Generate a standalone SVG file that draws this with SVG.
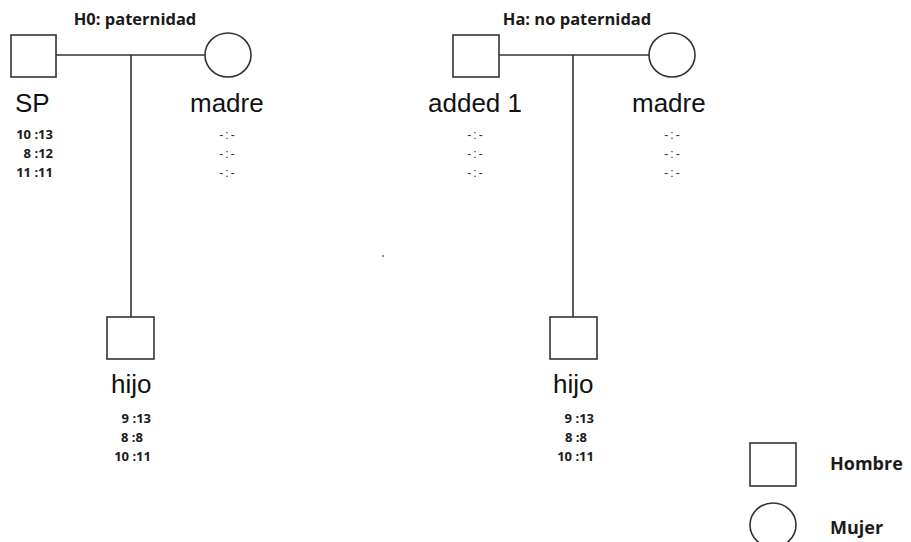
<svg xmlns="http://www.w3.org/2000/svg" width="911" height="542" viewBox="0 0 911 542">
<style>
.shape{fill:#fff;stroke:#333;stroke-width:1.6}
.line{stroke:#333;stroke-width:1.6;fill:none}
.title{font-family:"Open Sans","Liberation Sans",sans-serif;font-weight:bold;font-size:16.5px;fill:#1a1a1a}
.name{font-family:"Liberation Sans",Arial,sans-serif;font-size:26px;fill:#111}
.num{font-family:"Open Sans","Liberation Sans",sans-serif;font-weight:bold;font-size:13px;fill:#1a1a1a}
.dash{font-family:"Liberation Sans",Arial,sans-serif;font-size:12px;fill:#333;letter-spacing:2px}
.leg{font-family:"Open Sans","Liberation Sans",sans-serif;font-weight:bold;font-size:18px;fill:#1a1a1a}
</style>
<rect width="911" height="542" fill="#fff"/>
<g id="connectors">
<line class="line" x1="56" y1="55" x2="205" y2="55"/>
<line class="line" x1="131" y1="55" x2="131" y2="317"/>
<line class="line" x1="499" y1="55" x2="649" y2="55"/>
<line class="line" x1="573" y1="55" x2="573" y2="317"/>
</g>
<text class="title" x="135" y="25" text-anchor="middle">H0: paternidad</text>
<text class="title" x="577" y="25" text-anchor="middle">Ha: no paternidad</text>
<g id="sp">
<rect class="shape" x="11" y="35" width="45" height="42"/>
<text class="name" x="15" y="112">SP</text>
<text class="num" x="53" y="139" text-anchor="end">10 :13</text>
<text class="num" x="53" y="158" text-anchor="end">8 :12</text>
<text class="num" x="53" y="177" text-anchor="end">11 :11</text>
</g>
<g id="madre1">
<ellipse class="shape" cx="228" cy="55" rx="23" ry="22"/>
<text class="name" x="190" y="112">madre</text>
<text class="dash" x="228" y="139" text-anchor="middle">-:-</text>
<text class="dash" x="228" y="158" text-anchor="middle">-:-</text>
<text class="dash" x="228" y="177" text-anchor="middle">-:-</text>
</g>
<g id="hijo1">
<rect class="shape" x="107" y="317" width="47" height="42"/>
<text class="name" x="111" y="393">hijo</text>
<text class="num" x="151" y="423" text-anchor="end">9 :13</text>
<text class="num" x="143" y="442" text-anchor="end">8 :8</text>
<text class="num" x="151" y="461" text-anchor="end">10 :11</text>
</g>
<g id="added1">
<rect class="shape" x="453" y="35" width="46" height="42"/>
<text class="name" x="428" y="112">added 1</text>
<text class="dash" x="476" y="139" text-anchor="middle">-:-</text>
<text class="dash" x="476" y="158" text-anchor="middle">-:-</text>
<text class="dash" x="476" y="177" text-anchor="middle">-:-</text>
</g>
<g id="madre2">
<ellipse class="shape" cx="672" cy="55" rx="23" ry="22"/>
<text class="name" x="632" y="112">madre</text>
<text class="dash" x="673" y="139" text-anchor="middle">-:-</text>
<text class="dash" x="673" y="158" text-anchor="middle">-:-</text>
<text class="dash" x="673" y="177" text-anchor="middle">-:-</text>
</g>
<g id="hijo2">
<rect class="shape" x="550" y="317" width="47" height="42"/>
<text class="name" x="553" y="393">hijo</text>
<text class="num" x="594" y="423" text-anchor="end">9 :13</text>
<text class="num" x="587" y="442" text-anchor="end">8 :8</text>
<text class="num" x="594" y="461" text-anchor="end">10 :11</text>
</g>
<rect x="382" y="255" width="2" height="2" fill="#888"/>
<g id="legend-hombre">
<rect class="shape" x="750" y="443" width="46" height="43"/>
<text class="leg" x="830" y="470">Hombre</text>
</g>
<g id="legend-mujer">
<ellipse class="shape" cx="773" cy="525" rx="23" ry="22"/>
<text class="leg" x="830" y="534">Mujer</text>
</g>
</svg>
